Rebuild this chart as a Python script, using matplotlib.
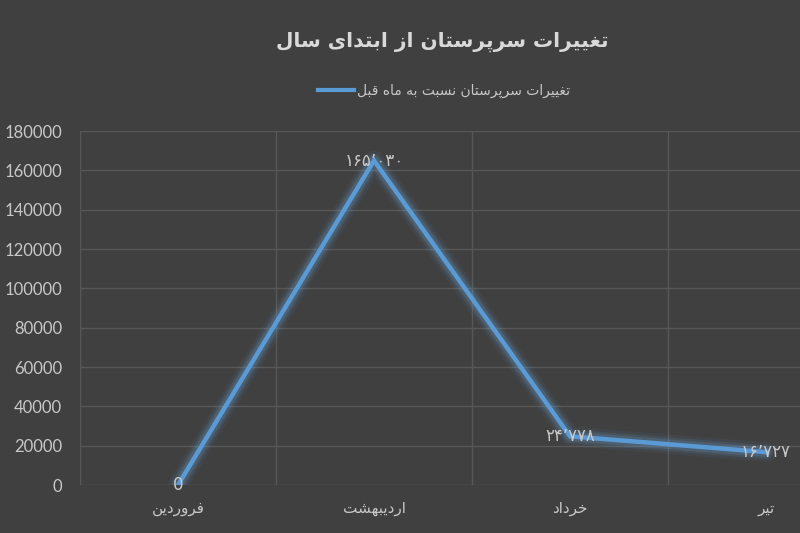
import matplotlib.pyplot as plt
from matplotlib.lines import Line2D

# data
months = ["فروردین", "اردیبهشت", "خرداد", "تیر"]
values = [0, 165030, 24778, 16727]
value_labels = ["0", "۱۶۵٬۰۳۰", "۲۴٬۷۷۸", "۱۶٬۷۲۷"]
title = "تغییرات سرپرستان از ابتدای سال"
series_name = "تغییرات سرپرستان نسبت به ماه قبل"

# minimal Persian shaping: letter -> (isolated, final, initial, medial)
FORMS = {
    "ا": ("\uFE8D", "\uFE8E", None, None),
    "ب": ("\uFE8F", "\uFE90", "\uFE91", "\uFE92"),
    "پ": ("\uFB56", "\uFB57", "\uFB58", "\uFB59"),
    "ت": ("\uFE95", "\uFE96", "\uFE97", "\uFE98"),
    "خ": ("\uFEA5", "\uFEA6", "\uFEA7", "\uFEA8"),
    "د": ("\uFEA9", "\uFEAA", None, None),
    "ر": ("\uFEAD", "\uFEAE", None, None),
    "ز": ("\uFEAF", "\uFEB0", None, None),
    "س": ("\uFEB1", "\uFEB2", "\uFEB3", "\uFEB4"),
    "ش": ("\uFEB5", "\uFEB6", "\uFEB7", "\uFEB8"),
    "غ": ("\uFECD", "\uFECE", "\uFECF", "\uFED0"),
    "ف": ("\uFED1", "\uFED2", "\uFED3", "\uFED4"),
    "ق": ("\uFED5", "\uFED6", "\uFED7", "\uFED8"),
    "ل": ("\uFEDD", "\uFEDE", "\uFEDF", "\uFEE0"),
    "م": ("\uFEE1", "\uFEE2", "\uFEE3", "\uFEE4"),
    "ن": ("\uFEE5", "\uFEE6", "\uFEE7", "\uFEE8"),
    "ه": ("\uFEE9", "\uFEEA", "\uFEEB", "\uFEEC"),
    "و": ("\uFEED", "\uFEEE", None, None),
    "ی": ("\uFBFC", "\uFBFD", "\uFBFE", "\uFBFF"),
}


def fa(text):
    out = []
    for i, ch in enumerate(text):
        if ch not in FORMS:
            out.append(ch)
            continue
        prev = text[i - 1] if i > 0 else ""
        nxt = text[i + 1] if i + 1 < len(text) else ""
        join_prev = prev in FORMS and FORMS[prev][2] is not None
        join_next = FORMS[ch][2] is not None and nxt in FORMS
        iso, fin, ini, med = FORMS[ch]
        if join_prev and join_next:
            out.append(med)
        elif join_prev:
            out.append(fin)
        elif join_next:
            out.append(ini)
        else:
            out.append(iso)
    return "".join(out)[::-1]


plt.rcParams['font.family'] = ['Lato', 'DejaVu Sans']

bg = '#404040'
grid_c = '#575757'
text_c = '#c8c8c8'
blue = '#5b9bd5'

fig = plt.figure(figsize=(8, 5.33), dpi=100, facecolor=bg)
ax = fig.add_axes([0.1, 0.09, 0.98, 0.664])
ax.set_facecolor(bg)

x = list(range(len(months)))

# glow under the line
for lw, a in [(14, 0.06), (10, 0.1), (7, 0.16)]:
    ax.plot(x, values, color='#6fb3f0', linewidth=lw, alpha=a,
            solid_capstyle='round', solid_joinstyle='round', zorder=3)
ax.plot(x, values, color=blue, linewidth=3.2, solid_joinstyle='miter', zorder=4)

for xi, v, lab in zip(x, values, value_labels):
    ax.text(xi, v, lab, ha='center', va='center', color=text_c,
            fontsize=12, zorder=5, family=['DejaVu Sans'])

ax.set_xlim(-0.5, len(months) - 0.5)
ax.set_ylim(0, 180000)
ax.set_yticks(range(0, 180001, 20000))
ax.set_yticklabels([str(t) for t in range(0, 180001, 20000)])
ax.set_xticks(x)
ax.set_xticklabels([fa(m) for m in months])
ax.set_xticks([i - 0.5 for i in range(len(months) + 1)], minor=True)
ax.grid(axis='y', color=grid_c, linewidth=1)
ax.grid(axis='x', which='minor', color=grid_c, linewidth=1)
ax.tick_params(axis='both', which='both', length=0, colors=text_c, labelsize=12)
ax.tick_params(axis='x', pad=12, labelsize=11)
ax.tick_params(axis='y', pad=13)
for s in ax.spines.values():
    s.set_visible(False)
ax.set_axisbelow(True)

fig.text(0.5525, 0.921, fa(title), ha='center', va='center', color='#d9d9d9',
         fontsize=14.5, fontweight='bold', family=['DejaVu Sans'])

handle = Line2D([0], [0], color=blue, linewidth=3)
leg = fig.legend([handle], [fa(series_name)], loc='center', bbox_to_anchor=(0.555, 0.83),
                 frameon=False, handlelength=2.6, handletextpad=0.2,
                 prop={'family': ['DejaVu Sans'], 'size': 10})
for t in leg.get_texts():
    t.set_color(text_c)

fig.savefig('out.png', dpi=100, facecolor=bg)
